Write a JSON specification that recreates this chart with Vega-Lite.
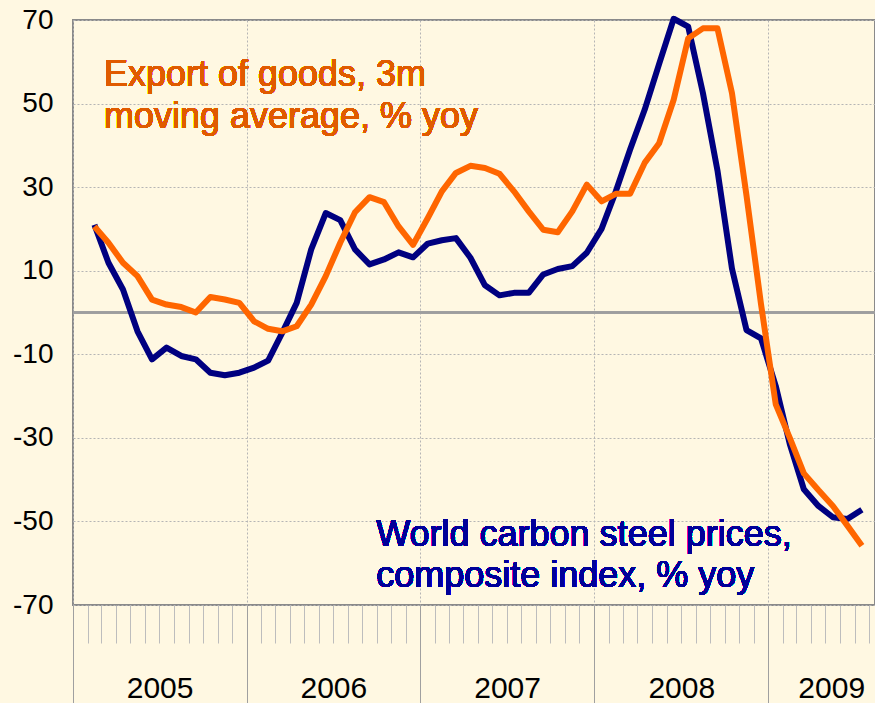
{
  "$schema": "https://vega.github.io/schema/vega-lite/v6.json",
  "width": 802,
  "height": 585,
  "autosize": {"type": "none"},
  "padding": {"left": 73, "top": 20, "right": 0, "bottom": 98},
  "background": "#FFF8E2",
  "config": {
    "view": {"stroke": "#8A8A8A", "strokeWidth": 2},
    "font": "Liberation Sans",
    "axis": {"labelFont": "Liberation Sans", "labelColor": "#000000", "domain": false, "title": null}
  },
  "datasets": {
    "series": [
      {"date": "2005/02/01", "series": "steel", "value": 21.0},
      {"date": "2005/03/01", "series": "steel", "value": 11.9},
      {"date": "2005/04/01", "series": "steel", "value": 5.5},
      {"date": "2005/05/01", "series": "steel", "value": -4.5},
      {"date": "2005/06/01", "series": "steel", "value": -11.2},
      {"date": "2005/07/01", "series": "steel", "value": -8.4},
      {"date": "2005/08/01", "series": "steel", "value": -10.4},
      {"date": "2005/09/01", "series": "steel", "value": -11.2},
      {"date": "2005/10/01", "series": "steel", "value": -14.4},
      {"date": "2005/11/01", "series": "steel", "value": -15.0},
      {"date": "2005/12/01", "series": "steel", "value": -14.4},
      {"date": "2006/01/01", "series": "steel", "value": -13.2},
      {"date": "2006/02/01", "series": "steel", "value": -11.5},
      {"date": "2006/03/01", "series": "steel", "value": -4.9},
      {"date": "2006/04/01", "series": "steel", "value": 2.3},
      {"date": "2006/05/01", "series": "steel", "value": 15.1},
      {"date": "2006/06/01", "series": "steel", "value": 23.8},
      {"date": "2006/07/01", "series": "steel", "value": 22.1},
      {"date": "2006/08/01", "series": "steel", "value": 15.1},
      {"date": "2006/09/01", "series": "steel", "value": 11.5},
      {"date": "2006/10/01", "series": "steel", "value": 12.7},
      {"date": "2006/11/01", "series": "steel", "value": 14.4},
      {"date": "2006/12/01", "series": "steel", "value": 13.2},
      {"date": "2007/01/01", "series": "steel", "value": 16.5},
      {"date": "2007/02/01", "series": "steel", "value": 17.3},
      {"date": "2007/03/01", "series": "steel", "value": 17.8},
      {"date": "2007/04/01", "series": "steel", "value": 13.1},
      {"date": "2007/05/01", "series": "steel", "value": 6.5},
      {"date": "2007/06/01", "series": "steel", "value": 4.1},
      {"date": "2007/07/01", "series": "steel", "value": 4.7},
      {"date": "2007/08/01", "series": "steel", "value": 4.7},
      {"date": "2007/09/01", "series": "steel", "value": 9.1},
      {"date": "2007/10/01", "series": "steel", "value": 10.4},
      {"date": "2007/11/01", "series": "steel", "value": 11.1},
      {"date": "2007/12/01", "series": "steel", "value": 14.3},
      {"date": "2008/01/01", "series": "steel", "value": 20.0},
      {"date": "2008/02/01", "series": "steel", "value": 29.0},
      {"date": "2008/03/01", "series": "steel", "value": 39.0},
      {"date": "2008/04/01", "series": "steel", "value": 48.5},
      {"date": "2008/05/01", "series": "steel", "value": 59.5},
      {"date": "2008/06/01", "series": "steel", "value": 70.3},
      {"date": "2008/07/01", "series": "steel", "value": 68.4},
      {"date": "2008/08/01", "series": "steel", "value": 52.5},
      {"date": "2008/09/01", "series": "steel", "value": 34.0},
      {"date": "2008/10/01", "series": "steel", "value": 10.5},
      {"date": "2008/11/01", "series": "steel", "value": -4.2},
      {"date": "2008/12/01", "series": "steel", "value": -6.2},
      {"date": "2009/01/01", "series": "steel", "value": -17.6},
      {"date": "2009/02/01", "series": "steel", "value": -31.5},
      {"date": "2009/03/01", "series": "steel", "value": -42.3},
      {"date": "2009/04/01", "series": "steel", "value": -46.3},
      {"date": "2009/05/01", "series": "steel", "value": -49.0},
      {"date": "2009/06/01", "series": "steel", "value": -49.4},
      {"date": "2009/07/01", "series": "steel", "value": -47.2},
      {"date": "2005/02/01", "series": "export", "value": 20.6},
      {"date": "2005/03/01", "series": "export", "value": 16.7},
      {"date": "2005/04/01", "series": "export", "value": 11.9},
      {"date": "2005/05/01", "series": "export", "value": 8.7},
      {"date": "2005/06/01", "series": "export", "value": 3.1},
      {"date": "2005/07/01", "series": "export", "value": 1.9},
      {"date": "2005/08/01", "series": "export", "value": 1.3},
      {"date": "2005/09/01", "series": "export", "value": 0.0},
      {"date": "2005/10/01", "series": "export", "value": 3.7},
      {"date": "2005/11/01", "series": "export", "value": 3.1},
      {"date": "2005/12/01", "series": "export", "value": 2.3},
      {"date": "2006/01/01", "series": "export", "value": -2.1},
      {"date": "2006/02/01", "series": "export", "value": -3.9},
      {"date": "2006/03/01", "series": "export", "value": -4.5},
      {"date": "2006/04/01", "series": "export", "value": -3.3},
      {"date": "2006/05/01", "series": "export", "value": 1.9},
      {"date": "2006/06/01", "series": "export", "value": 8.7},
      {"date": "2006/07/01", "series": "export", "value": 16.7},
      {"date": "2006/08/01", "series": "export", "value": 24.0},
      {"date": "2006/09/01", "series": "export", "value": 27.6},
      {"date": "2006/10/01", "series": "export", "value": 26.4},
      {"date": "2006/11/01", "series": "export", "value": 20.6},
      {"date": "2006/12/01", "series": "export", "value": 16.2},
      {"date": "2007/01/01", "series": "export", "value": 22.6},
      {"date": "2007/02/01", "series": "export", "value": 29.0},
      {"date": "2007/03/01", "series": "export", "value": 33.4},
      {"date": "2007/04/01", "series": "export", "value": 35.1},
      {"date": "2007/05/01", "series": "export", "value": 34.6},
      {"date": "2007/06/01", "series": "export", "value": 33.2},
      {"date": "2007/07/01", "series": "export", "value": 29.0},
      {"date": "2007/08/01", "series": "export", "value": 24.2},
      {"date": "2007/09/01", "series": "export", "value": 19.8},
      {"date": "2007/10/01", "series": "export", "value": 19.2},
      {"date": "2007/11/01", "series": "export", "value": 24.2},
      {"date": "2007/12/01", "series": "export", "value": 30.6},
      {"date": "2008/01/01", "series": "export", "value": 26.6},
      {"date": "2008/02/01", "series": "export", "value": 28.4},
      {"date": "2008/03/01", "series": "export", "value": 28.4},
      {"date": "2008/04/01", "series": "export", "value": 35.8},
      {"date": "2008/05/01", "series": "export", "value": 40.5},
      {"date": "2008/06/01", "series": "export", "value": 50.9},
      {"date": "2008/07/01", "series": "export", "value": 65.6},
      {"date": "2008/08/01", "series": "export", "value": 68.0},
      {"date": "2008/09/01", "series": "export", "value": 68.0},
      {"date": "2008/10/01", "series": "export", "value": 52.5},
      {"date": "2008/11/01", "series": "export", "value": 28.0},
      {"date": "2008/12/01", "series": "export", "value": 2.0},
      {"date": "2009/01/01", "series": "export", "value": -22.0},
      {"date": "2009/02/01", "series": "export", "value": -30.0},
      {"date": "2009/03/01", "series": "export", "value": -38.5},
      {"date": "2009/04/01", "series": "export", "value": -42.5},
      {"date": "2009/05/01", "series": "export", "value": -46.3},
      {"date": "2009/06/01", "series": "export", "value": -51.0},
      {"date": "2009/07/01", "series": "export", "value": -55.8}
    ]
  },
  "data": {"name": "series"},
  "resolve": {"axis": {"x": "independent"}},
  "layer": [
    {
      "mark": {"type": "rule", "color": "#9E9E9E", "strokeWidth": 1.5},
      "encoding": {"y": {"datum": 0, "type": "quantitative"}}
    },
    {
      "transform": [{"filter": "datum.series === 'steel'"}],
      "mark": {"type": "line", "stroke": "#000080", "strokeWidth": 6, "strokeJoin": "round"},
      "encoding": {
        "x": {
          "field": "date", "type": "temporal", "timeUnit": "yearmonth", "bandPosition": 0.5,
          "scale": {"domain": [{"year": 2005, "month": 1, "date": 1}, {"year": 2009, "month": 8, "date": 13}]},
          "axis": {"orient": "bottom", "tickCount": {"interval": "month", "step": 1}, "labels": false, "ticks": true, "tickSize": 38, "tickColor": "#BDBDBD", "tickWidth": 1, "grid": false, "domain": false}
        },
        "y": {
          "field": "value", "type": "quantitative",
          "scale": {"domain": [-70, 70], "nice": false, "zero": false},
          "axis": {"orient": "left", "values": [-70, -50, -30, -10, 10, 30, 50, 70], "labelExpr": "datum.value + ''", "ticks": false, "tickSize": 0, "labelPadding": 20, "labelFontSize": 28, "labelBaseline": "middle", "grid": true, "gridDash": [2, 2], "gridColor": "#B5B5B5", "gridWidth": 1, "domain": false, "labelFlush": false}
        }
      }
    },
    {
      "transform": [{"filter": "datum.series === 'export'"}],
      "mark": {"type": "line", "stroke": "#FF6600", "strokeWidth": 6, "strokeJoin": "round"},
      "encoding": {
        "x": {
          "field": "date", "type": "temporal", "timeUnit": "yearmonth", "bandPosition": 0.5,
          "axis": {"orient": "bottom", "tickCount": {"interval": "year", "step": 1}, "labels": false, "ticks": true, "tickSize": 98, "tickColor": "#A0A0A0", "tickWidth": 1, "grid": true, "gridDash": [2, 2], "gridColor": "#B5B5B5", "gridWidth": 1, "domain": false}
        },
        "y": {"field": "value", "type": "quantitative"}
      }
    },
    {
      "mark": {"type": "text", "text": ["Export of goods, 3m", "moving average, % yoy"], "align": "left", "baseline": "alphabetic", "fontSize": 36, "lineHeight": 42, "color": "#E05B00", "font": "Liberation Sans"},
      "encoding": {
        "x": {
          "datum": {"year": 2005, "month": 3, "date": 7}, "type": "temporal",
          "axis": {"orient": "bottom", "values": [{"year": 2005, "month": 7, "date": 2}, {"year": 2006, "month": 7, "date": 2}, {"year": 2007, "month": 7, "date": 2}, {"year": 2008, "month": 7, "date": 2}, {"year": 2009, "month": 5, "date": 13}], "labelExpr": "timeFormat(datum.value, '%Y')", "ticks": false, "tickSize": 0, "labelPadding": 92, "labelBaseline": "alphabetic", "labelFontSize": 30, "labelFlush": false, "labelOverlap": false, "grid": false, "domain": false}
        },
        "y": {"datum": 54.2, "type": "quantitative"}
      }
    },
    {
      "mark": {"type": "text", "text": ["World carbon steel prices,", "composite index, % yoy"], "align": "left", "baseline": "alphabetic", "fontSize": 36, "lineHeight": 41, "color": "#000099", "font": "Liberation Sans"},
      "encoding": {
        "x": {"datum": {"year": 2006, "month": 9, "date": 30}, "type": "temporal", "axis": null},
        "y": {"datum": -55.8, "type": "quantitative"}
      }
    }
  ]
}
